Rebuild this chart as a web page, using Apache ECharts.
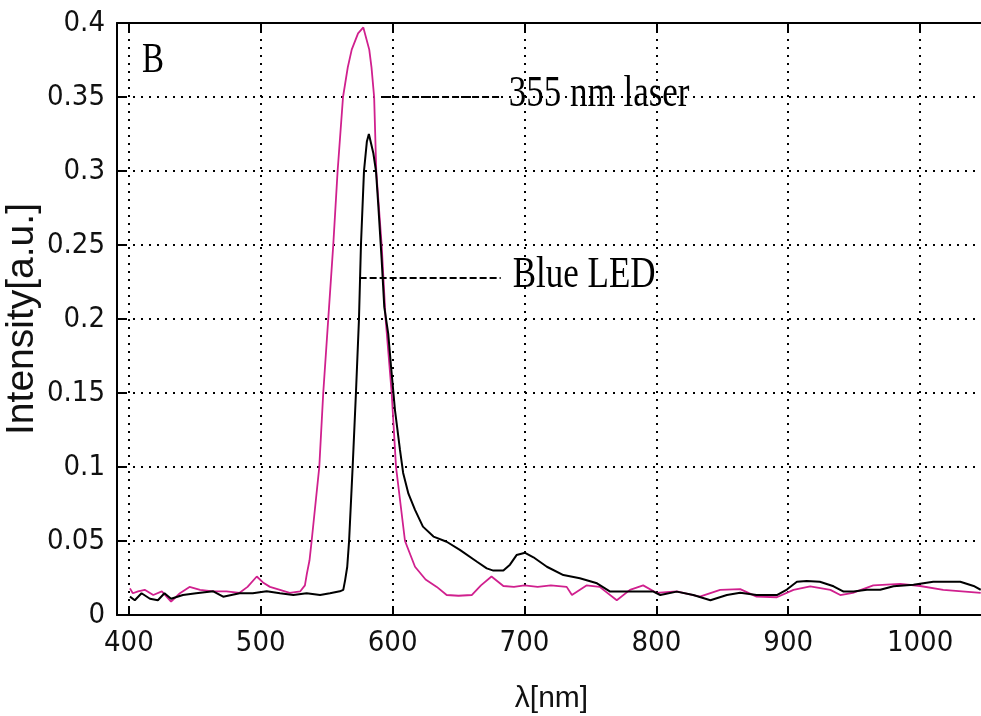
<!DOCTYPE html>
<html>
<head>
<meta charset="utf-8">
<script src="https://cdn.jsdelivr.net/npm/echarts@6/dist/echarts.min.js"></script>
<style>
  html, body { margin: 0; padding: 0; background: #fff; }
  #chart { width: 981px; height: 716px; }
</style>
</head>
<body>
<div id="chart"></div>
<script>
// 355 nm laser spectrum (magenta)
var laserX = [400.8, 403, 407, 412, 418.5, 425, 432, 438.7, 446, 454, 464, 474, 484, 490, 497, 501.7, 507, 514.6, 522, 530,
  533.5, 535, 537, 538.6, 544.4, 547.4, 551.2, 555, 558.3, 562.4, 566, 569, 573.8, 577.8, 582.3, 584, 586, 587.6, 591.7, 594.7, 599.3, 602.6,
  609.4, 617, 625, 633.5, 641, 650, 660, 667, 675, 684, 692, 700, 710, 720, 732, 736, 747, 757, 770, 780,
  790, 800, 815.5, 833, 848.4, 863.6, 876, 891.4, 904, 916.7, 932, 939.5, 949, 964.5, 985, 1000, 1017.6, 1046];
var laserY = [0.018, 0.0147, 0.016, 0.017, 0.0135, 0.016, 0.009, 0.0147, 0.019, 0.017, 0.016, 0.016, 0.015, 0.019, 0.026, 0.022, 0.019, 0.017, 0.015, 0.016,
  0.02, 0.028, 0.037, 0.05, 0.1, 0.15, 0.2, 0.25, 0.3, 0.35, 0.37, 0.382, 0.393, 0.397, 0.382, 0.37, 0.35, 0.3, 0.25, 0.2, 0.15, 0.1,
  0.05, 0.0326, 0.024, 0.019, 0.0135, 0.013, 0.0135, 0.02, 0.026, 0.0196, 0.019, 0.02, 0.019, 0.02, 0.019, 0.0135, 0.02, 0.019, 0.010, 0.017,
  0.020, 0.015, 0.016, 0.0124, 0.017, 0.0175, 0.0124, 0.012, 0.017, 0.0194, 0.017, 0.0135, 0.015, 0.020, 0.021, 0.0196, 0.017, 0.015];

// Blue LED spectrum (black)
var ledX = [400.8, 404.5, 409.6, 416, 422, 427, 432, 441, 451, 464, 471.5, 484, 494, 504.5, 514.6, 524.7, 534.8, 545, 552.5, 560,
  562.6, 564, 565.6, 567, 569.7, 572.2, 574.5, 576, 578.3, 580.5, 582, 585.4, 587.4, 589.2, 591.7, 593.7, 596.7, 598.8, 601.8, 603,
  605.6, 608, 612, 617, 623, 631, 641, 651, 664, 671.4, 676.4, 684, 689, 694, 700.5, 706.8, 717, 729.5, 742, 755,
  765, 777.6, 787.7, 797.8, 803, 815.5, 828, 841, 853.5, 863.6, 876, 891.4, 899, 906.6, 914, 924, 934.4, 942, 949.6, 959.7,
  969.8, 979.9, 995, 1010, 1030.5, 1040.6, 1046];
var ledY = [0.0124, 0.010, 0.0147, 0.011, 0.010, 0.0147, 0.011, 0.0135, 0.0147, 0.016, 0.0124, 0.0147, 0.0147, 0.016, 0.0147, 0.0135, 0.0147, 0.0135, 0.0147, 0.016,
  0.017, 0.0236, 0.0326, 0.05, 0.1, 0.15, 0.2, 0.25, 0.3, 0.32, 0.325, 0.312, 0.30, 0.276, 0.24, 0.208, 0.19, 0.168, 0.1385, 0.13,
  0.1115, 0.096, 0.082, 0.071, 0.0597, 0.053, 0.0495, 0.044, 0.036, 0.0315, 0.030, 0.030, 0.034, 0.0405, 0.042, 0.039, 0.0326, 0.027, 0.0248, 0.0214,
  0.0158, 0.0158, 0.0158, 0.0158, 0.0135, 0.0158, 0.0135, 0.010, 0.0135, 0.015, 0.0135, 0.0135, 0.0172, 0.0225, 0.023, 0.0225, 0.0194, 0.0158, 0.0158, 0.017,
  0.017, 0.0194, 0.0205, 0.0225, 0.0225, 0.0196, 0.017];

// leader lines for the two labels
var annoText = ['355 nm laser', 'Blue LED'];
var annoStart = [592, 575];
var annoEnd = [682, 682];
var annoY = [0.35, 0.228];

function pairs(xs, ys) {
  return xs.map(function (x, i) { return [x, ys[i]]; });
}

var numFont = '"Liberation Sans Narrow", "DejaVu Sans Condensed", sans-serif';
var dotted = { show: true, lineStyle: { color: '#000', width: 2, type: [2, 6] } };

var myChart = echarts.init(document.getElementById('chart'));
var option = {
  backgroundColor: '#fff',
  animation: false,
  grid: { left: 117, right: -5, top: 23, bottom: 101, outerBoundsMode: 'none', containLabel: false },
  xAxis: [
    {
      type: 'value',
      min: 391,
      max: 1050,
      splitNumber: 6,
      name: 'λ[nm]',
      nameLocation: 'middle',
      nameGap: 69,
      nameMoveOverlap: false,
      nameTextStyle: { fontSize: 30, color: '#111', fontFamily: '"Liberation Sans", Arial, sans-serif' },
      axisLine: { lineStyle: { color: '#000', width: 2 } },
      axisTick: { inside: true, length: 9, lineStyle: { color: '#000', width: 2 } },
      axisLabel: {
        fontSize: 29, color: '#111', fontFamily: numFont, margin: 14,
        showMinLabel: false, showMaxLabel: false,
        formatter: function (v) { return String(v); }
      },
      splitLine: dotted
    },
    {
      type: 'value',
      position: 'top',
      min: 391,
      max: 1050,
      splitNumber: 6,
      axisLine: { show: true, lineStyle: { color: '#000', width: 2 } },
      axisTick: { show: true, inside: true, length: 9, lineStyle: { color: '#000', width: 2 } },
      axisLabel: { show: false },
      splitLine: { show: false }
    }
  ],
  yAxis: {
    type: 'value',
    min: 0,
    max: 0.4,
    interval: 0.05,
    name: 'Intensity[a.u.]',
    nameLocation: 'middle',
    nameGap: 75,
    nameMoveOverlap: false,
    nameTextStyle: { fontSize: 39, color: '#111', fontFamily: '"Liberation Sans", Arial, sans-serif' },
    axisLine: { show: true, lineStyle: { color: '#000', width: 2 } },
    axisTick: { show: true, inside: true, length: 9, lineStyle: { color: '#000', width: 2 } },
    axisLabel: { fontSize: 29, color: '#111', fontFamily: numFont, margin: 12 },
    splitLine: dotted
  },
  series: [
    {
      name: '355 nm laser',
      type: 'line',
      showSymbol: false,
      data: pairs(laserX, laserY),
      lineStyle: { color: '#d0208e', width: 1.8 },
      itemStyle: { color: '#d0208e' },
      markLine: {
        silent: true,
        symbol: ['none', 'none'],
        label: { show: false },
        lineStyle: { color: '#000', width: 2, type: [7, 3] },
        data: [[{ coord: [annoStart[0], annoY[0]] }, { coord: [annoEnd[0], annoY[0]] }]]
      }
    },
    {
      name: 'Blue LED',
      type: 'line',
      showSymbol: false,
      data: pairs(ledX, ledY),
      lineStyle: { color: '#000', width: 2 },
      itemStyle: { color: '#000' },
      markLine: {
        silent: true,
        symbol: ['none', 'none'],
        label: { show: false },
        lineStyle: { color: '#000', width: 2, type: [7, 3] },
        data: [[{ coord: [annoStart[1], annoY[1]] }, { coord: [annoEnd[1], annoY[1]] }]]
      }
    }
  ]
};
myChart.setOption(option);

// text labels next to the leader lines, plus panel letter
var serif = '"Liberation Serif", "Times New Roman", serif';
var texts = annoText.map(function (t, i) {
  var p = myChart.convertToPixel({ gridIndex: 0 }, [annoEnd[i], annoY[i]]);
  return {
    type: 'text',
    x: p[0] + 8 + i * 4,
    y: p[1] - 2,
    scaleY: 1.25,
    silent: true,
    style: { text: t, fontSize: 35, fontFamily: serif, fill: '#000', textVerticalAlign: 'middle' }
  };
});
texts.push({
  type: 'text',
  x: 142,
  y: 61,
  scaleY: 1.25,
  silent: true,
  style: { text: 'B', fontSize: 33, fontFamily: serif, fill: '#000', textVerticalAlign: 'middle' }
});
myChart.setOption({ graphic: texts });

window.addEventListener('resize', function () {
  myChart.resize();
});
</script>
</body>
</html>
